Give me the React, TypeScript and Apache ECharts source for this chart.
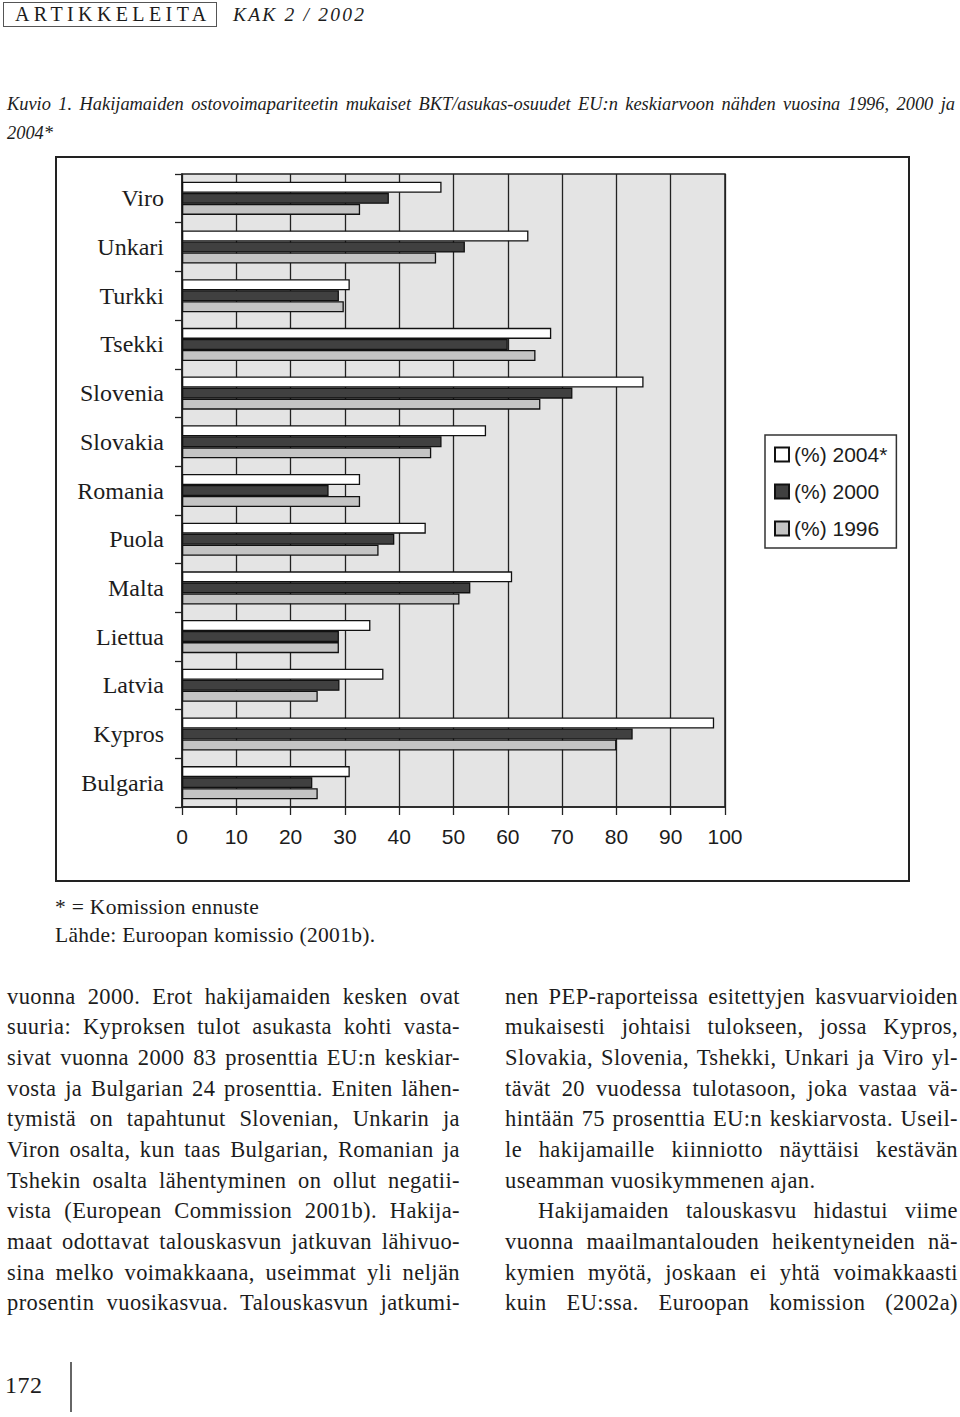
import React, { useEffect, useRef } from "react";
import * as echarts from "echarts";

const categories = ["Viro", "Unkari", "Turkki", "Tsekki", "Slovenia", "Slovakia", "Romania", "Puola", "Malta", "Liettua", "Latvia", "Kypros", "Bulgaria"];
const seriesNames = ["(%) 2004*", "(%) 2000", "(%) 1996"];
const values2004 = [47.8, 63.8, 30.9, 68, 85, 56, 32.8, 44.9, 60.8, 34.7, 37.1, 98, 30.9];
const values2000 = [38.1, 52.1, 28.9, 60, 71.9, 47.8, 27, 39.1, 53.1, 28.9, 29, 83, 24];
const values1996 = [32.8, 46.8, 29.8, 65.1, 66, 45.9, 32.8, 36.2, 51.1, 28.9, 25, 80, 25];
const seriesColors = ["#ffffff", "#404040", "#c4c4c4"];

const leftLines = [
  "vuonna 2000. Erot hakijamaiden kesken ovat",
  "suuria: Kyproksen tulot asukasta kohti vasta-",
  "sivat vuonna 2000 83 prosenttia EU:n keskiar-",
  "vosta ja Bulgarian 24 prosenttia. Eniten lähen-",
  "tymistä on tapahtunut Slovenian, Unkarin ja",
  "Viron osalta, kun taas Bulgarian, Romanian ja",
  "Tshekin osalta lähentyminen on ollut negatii-",
  "vista (European Commission 2001b). Hakija-",
  "maat odottavat talouskasvun jatkuvan lähivuo-",
  "sina melko voimakkaana, useimmat yli neljän",
  "prosentin vuosikasvua. Talouskasvun jatkumi-",
];
const rightLines = [
  "nen PEP-raporteissa esitettyjen kasvuarvioiden",
  "mukaisesti johtaisi tulokseen, jossa Kypros,",
  "Slovakia, Slovenia, Tshekki, Unkari ja Viro yl-",
  "tävät 20 vuodessa tulotasoon, joka vastaa vä-",
  "hintään 75 prosenttia EU:n keskiarvosta. Useil-",
  "le hakijamaille kiinniotto näyttäisi kestävän",
  "useamman vuosikymmenen ajan.",
  "Hakijamaiden talouskasvu hidastui viime",
  "vuonna maailmantalouden heikentyneiden nä-",
  "kymien myötä, joskaan ei yhtä voimakkaasti",
  "kuin EU:ssa. Euroopan komission (2002a)",
];

const SERIF = "'Liberation Serif', 'DejaVu Serif', serif";
const SANS = "'Liberation Sans', Arial, sans-serif";
const INK = "#1c1c1c";

function Chart() {
  const ref = useRef<HTMLDivElement>(null);
  useEffect(() => {
    if (!ref.current) return;
    const chart = echarts.init(ref.current, null, { renderer: "svg" });
    const data = [values2004, values2000, values1996];
    chart.setOption({
      animation: false,
      backgroundColor: "transparent",
      grid: {
        left: 182,
        top: 174,
        width: 543,
        height: 633,
        show: true,
        backgroundColor: "#e4e4e4",
        borderColor: "#222",
        borderWidth: 1.5,
      },
      legend: {
        orient: "vertical",
        left: 765,
        top: 435,
        padding: [8, 9, 8, 9],
        itemWidth: 14,
        itemHeight: 14,
        itemGap: 14,
        selectedMode: false,
        borderColor: "#333",
        borderWidth: 1.5,
        backgroundColor: "#fff",
        icon: "rect",
        textStyle: { fontFamily: SANS, fontSize: 21, color: INK, lineHeight: 23 },
        data: seriesNames,
      },
      xAxis: {
        type: "value",
        min: 0,
        max: 100,
        interval: 10,
        axisLine: { show: true, lineStyle: { color: "#222", width: 1.5 } },
        axisTick: { show: true, length: 8, lineStyle: { color: "#222", width: 1.3 } },
        axisLabel: { fontFamily: SANS, fontSize: 21, color: INK, margin: 19 },
        splitLine: { show: true, lineStyle: { color: "#222", width: 1.3 } },
      },
      yAxis: {
        type: "category",
        data: categories,
        inverse: true,
        axisLine: { show: true, lineStyle: { color: "#222", width: 1.5 } },
        axisTick: { show: true, length: 7, lineStyle: { color: "#222", width: 1.3 } },
        axisLabel: { fontFamily: SERIF, fontSize: 24, color: INK, margin: 18 },
        splitLine: { show: false },
      },
      series: seriesNames.map((name, i) => ({
        name,
        type: "bar",
        data: data[i],
        barGap: "0%",
        barCategoryGap: "32%",
        itemStyle: { color: seriesColors[i], borderColor: "#111", borderWidth: 1.3 },
      })),
      graphic: [
        {
          type: "rect",
          silent: true,
          shape: { x: 56, y: 157, width: 853, height: 724 },
          style: { fill: "none", stroke: "#222", lineWidth: 2 },
        },
      ],
    });
    return () => chart.dispose();
  }, []);
  return <div ref={ref} style={{ position: "absolute", left: 0, top: 0, width: 960, height: 900 }} />;
}

const lineStyle = (justify: boolean, indent = 0): React.CSSProperties => ({
  height: 30.7,
  lineHeight: "30.7px",
  whiteSpace: "nowrap",
  textAlign: justify ? "justify" : "left",
  textAlignLast: justify ? "justify" : "left",
  paddingLeft: indent,
});

const bodyStyle: React.CSSProperties = {
  position: "absolute",
  top: 981.6,
  width: 453,
  fontSize: 22.5,
  letterSpacing: 0.4,
};

export default function App() {
  return (
    <div style={{ position: "absolute", left: 0, top: 0, width: 960, height: 1417, background: "#fff", overflow: "hidden", color: INK, fontFamily: SERIF }}>
      <Chart />
      {/* header */}
      <div style={{ position: "absolute", left: 3, top: 2, width: 214, height: 25, border: "1.5px solid #555", boxSizing: "border-box", fontSize: 20, lineHeight: "23px", letterSpacing: 4.4, paddingLeft: 11, whiteSpace: "nowrap" }}>
        ARTIKKELEITA
      </div>
      <div style={{ position: "absolute", left: 233, top: 2, height: 25, fontSize: 19.5, lineHeight: "25px", letterSpacing: 2.2, fontStyle: "italic", whiteSpace: "nowrap" }}>
        KAK 2 / 2002
      </div>
      {/* caption */}
      <div style={{ position: "absolute", left: 7, top: 89.5, width: 948, fontSize: 18.4, fontStyle: "italic" }}>
        <div style={{ height: 29, lineHeight: "29px", whiteSpace: "nowrap", textAlign: "justify", textAlignLast: "justify" }}>
          Kuvio 1. Hakijamaiden ostovoimapariteetin mukaiset BKT/asukas-osuudet EU:n keskiarvoon nähden vuosina 1996, 2000 ja
        </div>
        <div style={{ height: 29, lineHeight: "29px" }}>2004*</div>
      </div>
      {/* footnotes */}
      <div style={{ position: "absolute", left: 55, top: 893, fontSize: 21.5, lineHeight: "28px", letterSpacing: 0.3, whiteSpace: "nowrap" }}>
        <div>* = Komission ennuste</div>
        <div>Lähde: Euroopan komissio (2001b).</div>
      </div>
      {/* body text */}
      <div style={{ ...bodyStyle, left: 7 }}>
        {leftLines.map((t, i) => (
          <div key={i} style={lineStyle(true)}>{t}</div>
        ))}
      </div>
      <div style={{ ...bodyStyle, left: 505 }}>
        {rightLines.map((t, i) => (
          <div key={i} style={lineStyle(i !== 6, i === 7 ? 33 : 0)}>{t}</div>
        ))}
      </div>
      {/* page number */}
      <div style={{ position: "absolute", left: 5, top: 1371, fontSize: 24, lineHeight: "28px", letterSpacing: 0.5 }}>172</div>
      <div style={{ position: "absolute", left: 70, top: 1362, width: 1.5, height: 50, background: "#666" }} />
    </div>
  );
}
